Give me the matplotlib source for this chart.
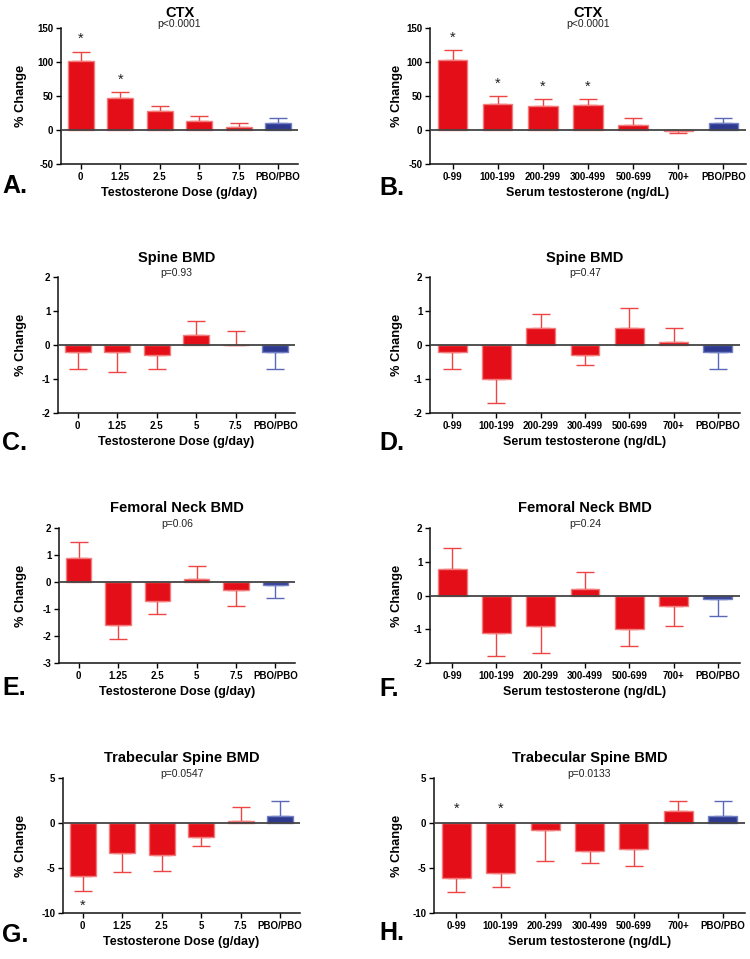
import matplotlib
matplotlib.use("Agg")
import matplotlib.pyplot as plt

plt.rcParams['font.family'] = ['Liberation Sans', 'DejaVu Sans']
plt.rcParams['axes.unicode_minus'] = False

# Category labels
dose_labels = ['0', '1.25', '2.5', '5', '7.5', 'PBO/PBO']
serum_labels = ['0-99', '100-199', '200-299', '300-499', '500-699', '700+', 'PBO/PBO']

# Bar values (% change) and one-sided error bar lengths
ctx_dose = [102, 47, 28, 13, 4, 10]
ctx_dose_err = [13, 9, 7, 8, 6, 7]
ctx_serum = [103, 38, 36, 37, 8, -1, 11]
ctx_serum_err = [14, 12, 9, 8, 9, 4, 6]

spine_dose = [-0.2, -0.2, -0.3, 0.3, 0.0, -0.2]
spine_dose_err = [0.5, 0.6, 0.4, 0.4, 0.4, 0.5]
spine_serum = [-0.2, -1.0, 0.5, -0.3, 0.5, 0.1, -0.2]
spine_serum_err = [0.5, 0.7, 0.4, 0.3, 0.6, 0.4, 0.5]

fn_dose = [0.9, -1.6, -0.7, 0.1, -0.3, -0.1]
fn_dose_err = [0.6, 0.5, 0.5, 0.5, 0.6, 0.5]
fn_serum = [0.8, -1.1, -0.9, 0.2, -1.0, -0.3, -0.1]
fn_serum_err = [0.6, 0.7, 0.8, 0.5, 0.5, 0.6, 0.5]

trab_dose = [-5.9, -3.3, -3.5, -1.5, 0.2, 0.8]
trab_dose_err = [1.7, 2.1, 1.8, 1.0, 1.6, 1.6]
trab_serum = [-6.1, -5.6, -0.8, -3.1, -2.9, 1.3, 0.8]
trab_serum_err = [1.6, 1.5, 3.4, 1.3, 1.9, 1.1, 1.6]

RED = '#E30E18'
RED_EDGE = '#F27C7C'
RED_ERR = '#EE4444'
BLUE = '#2E3A8F'
BLUE_EDGE = '#7580C4'
BLUE_ERR = '#5A68B8'

W, H = 750, 959

panels = [
    dict(letter='A.', box=(61, 28, 298, 164), letter_xy=(2, 186),
         title='CTX', p='p<0.0001', labels=dose_labels, vals=ctx_dose, err=ctx_dose_err,
         ylim=(-50, 150), yticks=[-50, 0, 50, 100, 150], stars=[0, 1], star_at='whisker',
         xlabel='Testosterone Dose (g/day)', title_off=15),
    dict(letter='B.', box=(430, 28, 746, 164), letter_xy=(379, 188),
         title='CTX', p='p<0.0001', labels=serum_labels, vals=ctx_serum, err=ctx_serum_err,
         ylim=(-50, 150), yticks=[-50, 0, 50, 100, 150], stars=[0, 1, 2, 3], star_at='whisker',
         xlabel='Serum testosterone (ng/dL)', title_off=15),
    dict(letter='C.', box=(58, 277, 295, 413), letter_xy=(2, 443),
         title='Spine BMD', p='p=0.93', labels=dose_labels, vals=spine_dose, err=spine_dose_err,
         ylim=(-2, 2), yticks=[-2, -1, 0, 1, 2], stars=[], star_at='whisker',
         xlabel='Testosterone Dose (g/day)', title_off=19),
    dict(letter='D.', box=(430, 277, 740, 413), letter_xy=(379, 443),
         title='Spine BMD', p='p=0.47', labels=serum_labels, vals=spine_serum, err=spine_serum_err,
         ylim=(-2, 2), yticks=[-2, -1, 0, 1, 2], stars=[], star_at='whisker',
         xlabel='Serum testosterone (ng/dL)', title_off=19),
    dict(letter='E.', box=(59, 528, 295, 663), letter_xy=(2, 688),
         title='Femoral Neck BMD', p='p=0.06', labels=dose_labels, vals=fn_dose, err=fn_dose_err,
         ylim=(-3, 2), yticks=[-3, -2, -1, 0, 1, 2], stars=[], star_at='whisker',
         xlabel='Testosterone Dose (g/day)', title_off=20),
    dict(letter='F.', box=(430, 528, 740, 663), letter_xy=(379, 689),
         title='Femoral Neck BMD', p='p=0.24', labels=serum_labels, vals=fn_serum, err=fn_serum_err,
         ylim=(-2, 2), yticks=[-2, -1, 0, 1, 2], stars=[], star_at='whisker',
         xlabel='Serum testosterone (ng/dL)', title_off=20),
    dict(letter='G.', box=(63, 778, 300, 913), letter_xy=(2, 935),
         title='Trabecular Spine BMD', p='p=0.0547', labels=dose_labels, vals=trab_dose,
         err=trab_dose_err, ylim=(-10, 5), yticks=[-10, -5, 0, 5], stars=[0],
         star_at='whisker', xlabel='Testosterone Dose (g/day)', title_off=20),
    dict(letter='H.', box=(434, 778, 745, 913), letter_xy=(379, 933),
         title='Trabecular Spine BMD', p='p=0.0133', labels=serum_labels, vals=trab_serum,
         err=trab_serum_err, ylim=(-10, 5), yticks=[-10, -5, 0, 5], stars=[0, 1],
         star_at='zero', xlabel='Serum testosterone (ng/dL)', title_off=20),
]

fig = plt.figure(figsize=(W / 100, H / 100), dpi=100)
fig.patch.set_facecolor('white')

for pn in panels:
    x0, y0, x1, y1 = pn['box']
    ax = fig.add_axes([x0 / W, 1 - y1 / H, (x1 - x0) / W, (y1 - y0) / H])
    n = len(pn['labels'])
    xs = list(range(n))
    vals = pn['vals']
    faces = [RED] * (n - 1) + [BLUE]
    edges = [RED_EDGE] * (n - 1) + [BLUE_EDGE]
    ax.bar(xs, vals, width=0.65, color=faces, edgecolor=edges, linewidth=1.0, zorder=2)

    # one-sided error bars in the direction of the bar
    for i, (v, e) in enumerate(zip(vals, pn['err'])):
        lo, hi = (0, e) if v >= 0 else (e, 0)
        ecol = BLUE_ERR if i == n - 1 else RED_ERR
        ax.errorbar([i], [v], yerr=[[lo], [hi]], fmt='none', ecolor=ecol,
                    elinewidth=1.0, capsize=6.5, capthick=1.0, zorder=1)

    ax.axhline(0, color='#444444', linewidth=1.3, zorder=3)

    for i in pn['stars']:
        v, e = vals[i], pn['err'][i]
        if pn['star_at'] == 'zero':
            ax.annotate('*', xy=(i, 0), xytext=(0, 5), textcoords='offset points',
                        ha='center', va='bottom', fontsize=10.5, color='#222222')
        elif v >= 0:
            ax.annotate('*', xy=(i, v + e), xytext=(0, 4), textcoords='offset points',
                        ha='center', va='bottom', fontsize=10.5, color='#222222')
        else:
            ax.annotate('*', xy=(i, v - e), xytext=(0, -5), textcoords='offset points',
                        ha='center', va='top', fontsize=10.5, color='#222222')

    ax.set_xlim(-0.5, n - 0.5)
    ax.set_ylim(*pn['ylim'])
    ax.set_yticks(pn['yticks'])
    ax.set_xticks(xs)
    ax.set_xticklabels(pn['labels'])
    ax.tick_params(axis='both', direction='out', length=3.5, width=1.0, pad=2,
                   labelsize=7)
    for lab in ax.get_xticklabels() + ax.get_yticklabels():
        lab.set_fontweight('bold')

    for side in ('top', 'right'):
        ax.spines[side].set_visible(False)
    for side in ('left', 'bottom'):
        ax.spines[side].set_linewidth(1.1)
        ax.spines[side].set_color('#111111')

    ax.set_ylabel('% Change', fontsize=9.3, fontweight='bold')
    ax.yaxis.set_label_coords(-(x0 - 27 if x0 < 375 else x0 - 403) / (x1 - x0), 0.5)
    ax.set_xlabel(pn['xlabel'], fontsize=9, fontweight='bold', labelpad=4)

    ax.annotate(pn['title'], xy=(0.5, 1), xycoords='axes fraction',
                xytext=(0, pn['title_off'] * 0.72), textcoords='offset points',
                ha='center', va='center', fontsize=10.5, fontweight='bold')
    ax.annotate(pn['p'], xy=(0.5, 1), xycoords='axes fraction',
                xytext=(0, 4 * 0.72), textcoords='offset points',
                ha='center', va='center', fontsize=7.5, color='#222222')

    lx, ly = pn['letter_xy']
    fig.text(lx / W, 1 - ly / H, pn['letter'], ha='left', va='center',
             fontsize=18, fontweight='bold')

fig.savefig('out.png', dpi=100, facecolor='white')
